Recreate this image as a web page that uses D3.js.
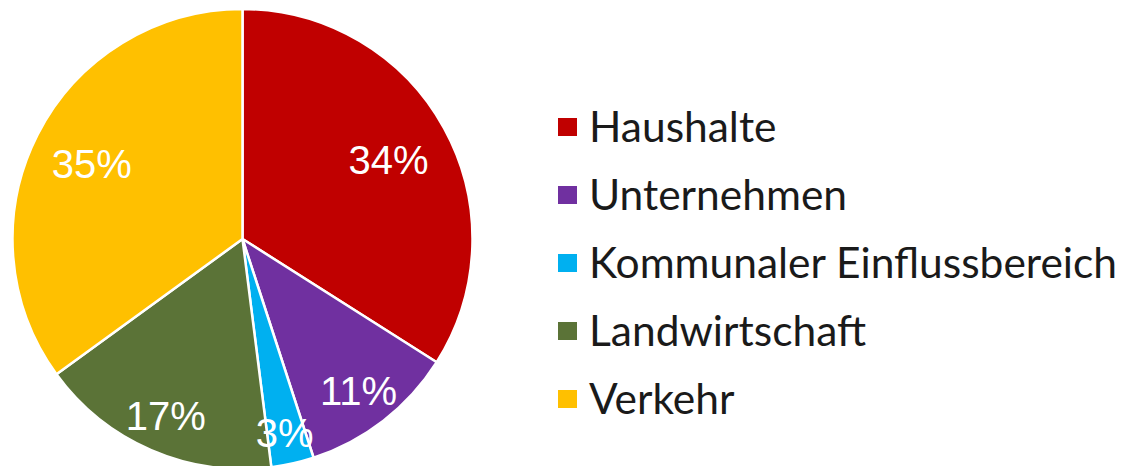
<!DOCTYPE html>
<html>
<head>
<meta charset="UTF-8">
<title>Anteile</title>
<style>
body, html {
	padding: 0;
	margin: 0;
	overflow: hidden;
	background: #ffffff;
}
</style>
<script src="https://cdn.jsdelivr.net/npm/d3@7"></script>
</head>
<body>
<div id="chart"></div>
<script>
var categories = ["Haushalte", "Unternehmen", "Kommunaler Einflussbereich", "Landwirtschaft", "Verkehr"];
var values = [34, 11, 3, 17, 35];
var colors = ["#C00000", "#7030A0", "#00B0F0", "#5B7337", "#FFC000"];

var width = 1123;
var height = 466;
var cx = 242.5;
var cy = 239;
var radius = 230;

var svg = d3.select("#chart").append("svg")
	.attr("width", width)
	.attr("height", height);

var data = categories.map(function(c, i) {return {name: c, value: values[i], color: colors[i]}});

var pie = d3.pie().sort(null).value(function(d) {return d.value});
var arc = d3.arc().innerRadius(0).outerRadius(radius);

var g = svg.append("g").attr("transform", "translate(" + cx + "," + cy + ")");

var slices = pie(data);

g.selectAll("path").data(slices).enter().append("path")
	.attr("d", arc)
	.attr("fill", function(d) {return d.data.color})
	.attr("stroke", "#ffffff")
	.attr("stroke-width", 2.5)
	.attr("stroke-linejoin", "round");

// small slices get their label pushed outward, like excel does
function labelRadius(d) {
	if (d.data.value >= 30) return radius*0.73;
	if (d.data.value < 5) return radius*0.86;
	return radius*0.83;
}

g.selectAll("text").data(slices).enter().append("text")
	.attr("transform", function(d) {
		var a = (d.startAngle + d.endAngle)/2;
		var r = labelRadius(d);
		return "translate(" + (Math.sin(a)*r - 1) + "," + (-Math.cos(a)*r + 1) + ")";
	})
	.attr("text-anchor", "middle")
	.attr("dy", "0.36em")
	.attr("fill", "#ffffff")
	.style("font-family", "'Liberation Sans', Arial, sans-serif")
	.style("font-size", "40px")
	.text(function(d) {return d.data.value + "%"});

var legend = svg.append("g").attr("transform", "translate(558,127)");

var row = legend.selectAll("g").data(data).enter().append("g")
	.attr("transform", function(d, i) {return "translate(0," + (i*68) + ")"});

row.append("rect")
	.attr("x", 0)
	.attr("y", -9)
	.attr("width", 19)
	.attr("height", 18)
	.attr("fill", function(d) {return d.color});

row.append("text")
	.attr("x", 31)
	.attr("dy", "0.36em")
	.attr("fill", "#1a1a1a")
	.style("font-family", "Lato, sans-serif")
	.style("font-size", "42.5px")
	.text(function(d) {return d.name});
</script>
</body>
</html>
